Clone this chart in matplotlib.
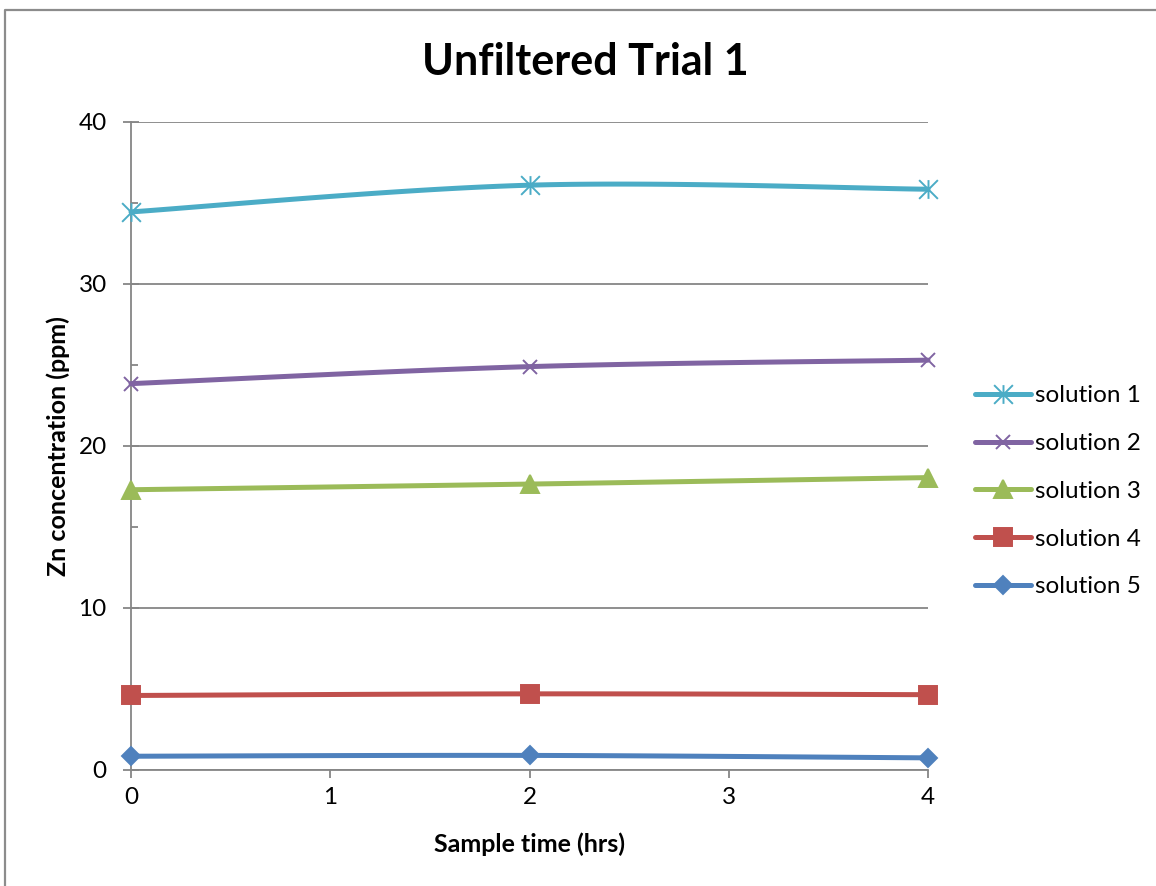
import numpy as np
import matplotlib
matplotlib.use("Agg")
import matplotlib.pyplot as plt
from matplotlib.path import Path
from matplotlib.lines import Line2D

plt.rcParams['font.family'] = ['Lato', 'DejaVu Sans']

# Zn readings (ppm) at each sample time (hrs)
times = [0, 2, 4]
labels = ['solution 1', 'solution 2', 'solution 3', 'solution 4', 'solution 5']
sol1 = [34.45, 36.1, 35.85]
sol2 = [23.85, 24.9, 25.3]
sol3 = [17.3, 17.65, 18.05]
sol4 = [4.6, 4.7, 4.65]
sol5 = [0.85, 0.9, 0.75]

series = [sol1, sol2, sol3, sol4, sol5]
colors = ['#4BACC6', '#8064A2', '#9BBB59', '#C0504D', '#4F81BD']

# Excel-style star: an x with a vertical bar through it
star = Path([(-0.5, -0.5), (0.5, 0.5), (-0.5, 0.5), (0.5, -0.5), (0, -0.5), (0, 0.5)],
            [Path.MOVETO, Path.LINETO, Path.MOVETO, Path.LINETO, Path.MOVETO, Path.LINETO])
markers = [star, 'x', '^', 's', 'D']
msizes = [13.5, 10, 13.5, 12.5, 9]


def smooth(xs, ys, n=40):
    # cubic bezier through the points, control points like Excel's smoothed line
    p = np.column_stack([xs, ys]).astype(float)
    pad = np.vstack([p[0], p, p[-1]])
    out = []
    for i in range(len(p) - 1):
        p0, p3 = p[i], p[i + 1]
        c1 = p0 + (pad[i + 2] - pad[i]) / 6
        c2 = p3 - (pad[i + 3] - pad[i + 1]) / 6
        t = np.linspace(0, 1, n, endpoint=False)[:, None]
        out.append((1 - t) ** 3 * p0 + 3 * (1 - t) ** 2 * t * c1 + 3 * (1 - t) * t ** 2 * c2 + t ** 3 * p3)
    out.append(p[-1:])
    curve = np.vstack(out)
    return curve[:, 0], curve[:, 1], list(range(0, len(curve), n))


fig = plt.figure(figsize=(11.56, 8.86), dpi=100)
ax = fig.add_axes([131 / 1156, 1 - 770 / 886, (928 - 131) / 1156, (770 - 122) / 886])

for vals, lab, col, mk, ms in zip(series, labels, colors, markers, msizes):
    cx, cy, idx = smooth(times, vals)
    filled = mk in ('^', 's', 'D')
    ax.plot(cx, cy, color=col, lw=3.6, label=lab, marker=mk, markevery=idx, ms=ms,
            mfc=col if filled else 'none', mec=col, mew=1.4, clip_on=False,
            solid_capstyle='round', zorder=3)

ax.set_xlim(0, 4)
ax.set_ylim(0, 40)
ax.set_xticks([0, 1, 2, 3, 4])
ax.set_yticks([0, 10, 20, 30, 40])
ax.set_yticks([5, 15, 25, 35], minor=True)
ax.yaxis.grid(True, color='#868686', lw=1.3)
ax.set_axisbelow(True)
for s in ['top', 'right']:
    ax.spines[s].set_visible(False)
for s in ['left', 'bottom']:
    ax.spines[s].set_color('#868686')
    ax.spines[s].set_linewidth(1.3)
ax.tick_params(axis='y', which='major', direction='inout', length=11, width=1.3,
               color='#868686', labelsize=17.5, pad=12)
ax.tick_params(axis='y', which='minor', direction='in', length=5, width=1.3, color='#868686')
ax.tick_params(axis='x', direction='out', length=6, width=1.3, color='#868686',
               labelsize=17.5, pad=6)

ax.set_xlabel('Sample time (hrs)', fontsize=18, fontweight='bold', labelpad=18)
ax.set_ylabel('Zn concentration (ppm)', fontsize=18, fontweight='bold', labelpad=6)

fig.text(585 / 1156, 1 - 62 / 886, 'Unfiltered Trial 1', ha='center', va='center',
         fontsize=31, fontweight='bold')

ax.legend(loc='center left', bbox_to_anchor=(1.047, 0.43), frameon=False, fontsize=17.5,
          handlelength=2.3, handletextpad=0.15, labelspacing=1.1, borderaxespad=0)

# chart area border (left and top edges only)
fx = 5 / 1156
fy = 1 - 10 / 886
fig.add_artist(Line2D([fx, fx, 1], [0, fy, fy], color='#8C8C8C', lw=1.6))

fig.savefig('out.png', dpi=100, facecolor='white')
